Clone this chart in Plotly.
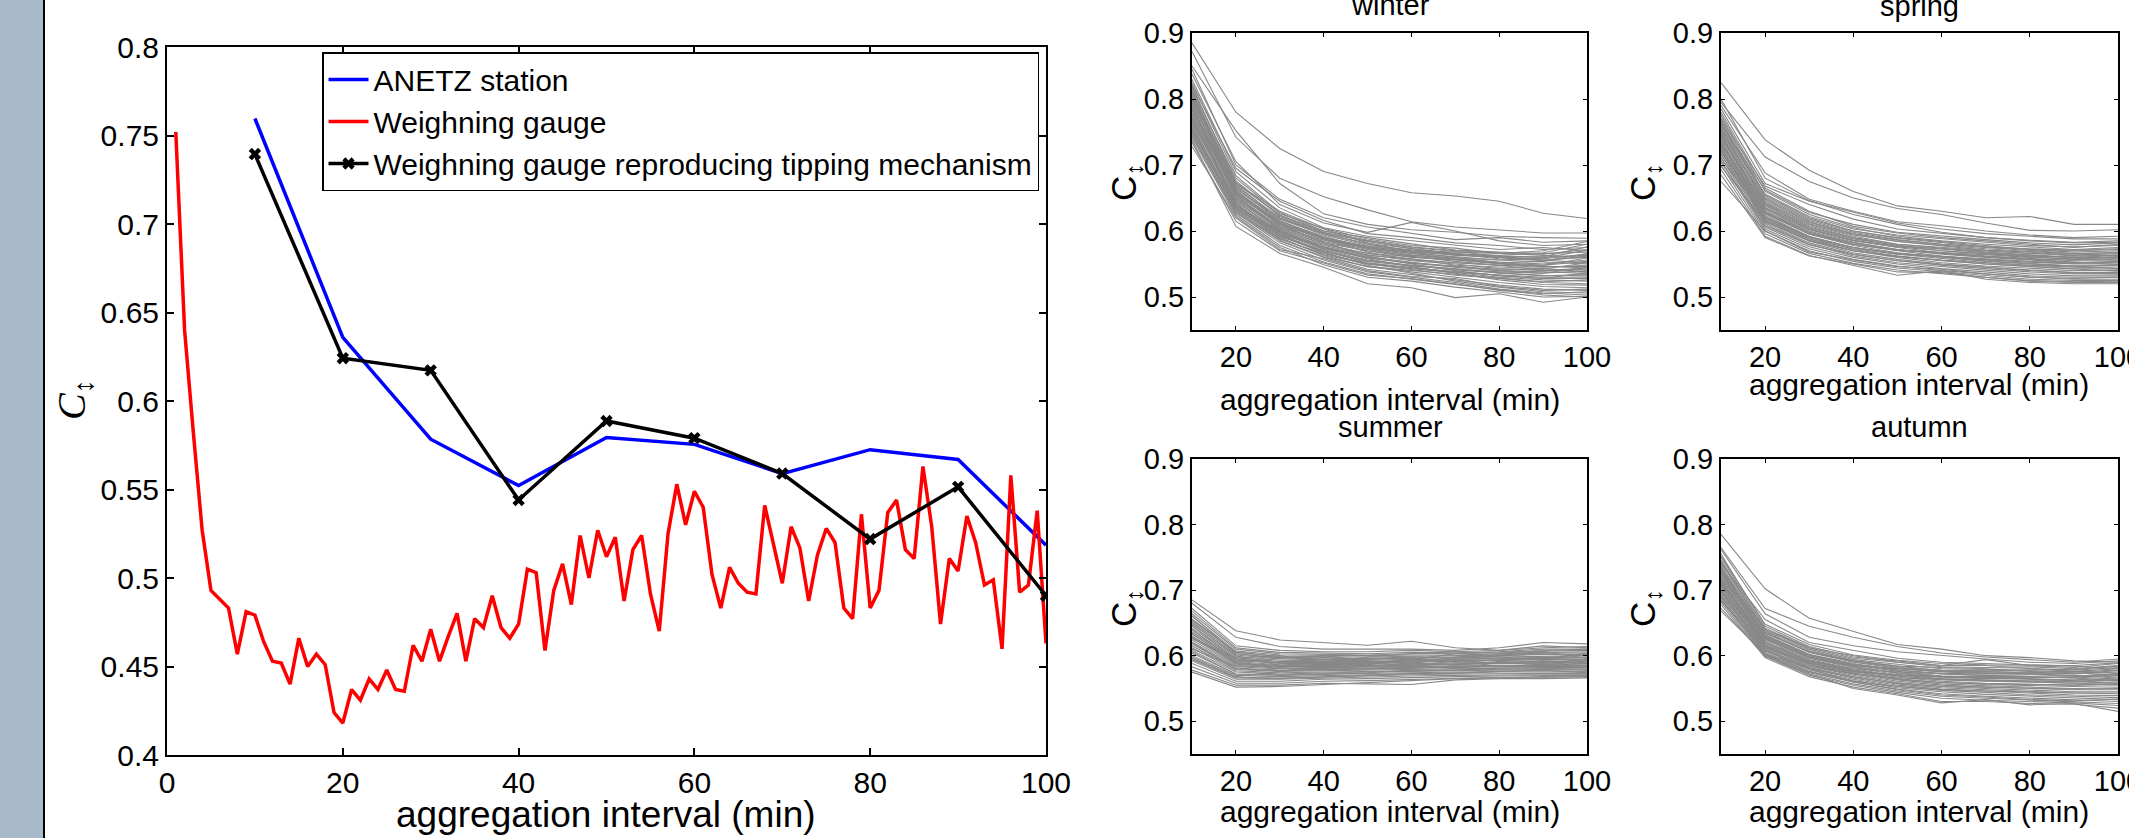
import plotly.graph_objects as go

W, H = 2129, 838
FONT = "Liberation Sans, Arial, sans-serif"

# ---------------- data: left panel ----------------
coarse_interval = [10, 20, 30, 40, 50, 60, 70, 80, 90, 100]
anetz_station = [0.7596, 0.636, 0.5784, 0.5522, 0.5794, 0.5755, 0.559, 0.5725, 0.567, 0.5185]
tipping_gauge = [0.7395, 0.6242, 0.6173, 0.5441, 0.5887, 0.579, 0.559, 0.522, 0.5515, 0.49]
weighing_gauge = [
    0.752, 0.640, 0.582, 0.527, 0.493, 0.488, 0.483, 0.457, 0.481, 0.479,
    0.464, 0.453, 0.452, 0.440, 0.466, 0.450, 0.457, 0.451, 0.424, 0.418,
    0.437, 0.431, 0.443, 0.437, 0.448, 0.437, 0.436, 0.462, 0.453, 0.471,
    0.453, 0.467, 0.480, 0.453, 0.477, 0.472, 0.490, 0.472, 0.466, 0.474,
    0.505, 0.503, 0.459, 0.493, 0.508, 0.485, 0.524, 0.500, 0.527, 0.512,
    0.523, 0.487, 0.516, 0.524, 0.491, 0.470, 0.525, 0.553, 0.530, 0.549,
    0.540, 0.502, 0.483, 0.506, 0.497, 0.492, 0.491, 0.541, 0.519, 0.497,
    0.529, 0.517, 0.487, 0.513, 0.528, 0.520, 0.483, 0.477, 0.536, 0.483,
    0.493, 0.537, 0.544, 0.516, 0.511, 0.563, 0.529, 0.474, 0.511, 0.504,
    0.535, 0.520, 0.496, 0.499, 0.460, 0.558, 0.492, 0.496, 0.538, 0.463,
]
fine_interval = list(range(1, len(weighing_gauge) + 1))

left_xticks = [0, 20, 40, 60, 80, 100]
left_yticks = [0.4, 0.45, 0.5, 0.55, 0.6, 0.65, 0.7, 0.75, 0.8]
left_yticktext = ["0.4", "0.45", "0.5", "0.55", "0.6", "0.65", "0.7", "0.75", "0.8"]

# ---------------- data: seasonal panels ----------------
season_interval = [10, 20, 30, 40, 50, 60, 70, 80, 90, 100]
season_xticks = [20, 40, 60, 80, 100]
season_yticks = [0.5, 0.6, 0.7, 0.8, 0.9]
season_yticktext = ["0.5", "0.6", "0.7", "0.8", "0.9"]

winter = [
    [0.885, 0.780, 0.725, 0.690, 0.672, 0.658, 0.653, 0.645, 0.627, 0.619],
    [0.872, 0.742, 0.680, 0.652, 0.632, 0.614, 0.606, 0.601, 0.597, 0.597],
    [0.850, 0.752, 0.672, 0.626, 0.610, 0.602, 0.598, 0.592, 0.590, 0.589],
    [0.845, 0.700, 0.648, 0.620, 0.606, 0.596, 0.587, 0.590, 0.583, 0.585],
    [0.838, 0.705, 0.640, 0.612, 0.598, 0.613, 0.600, 0.585, 0.578, 0.580],
    [0.830, 0.690, 0.635, 0.605, 0.592, 0.585, 0.578, 0.572, 0.575, 0.570],
    [0.825, 0.684, 0.628, 0.600, 0.590, 0.580, 0.571, 0.568, 0.566, 0.568],
    [0.818, 0.676, 0.622, 0.597, 0.585, 0.575, 0.569, 0.562, 0.560, 0.563],
    [0.812, 0.670, 0.618, 0.594, 0.578, 0.572, 0.565, 0.558, 0.556, 0.560],
    [0.808, 0.672, 0.630, 0.603, 0.582, 0.568, 0.560, 0.552, 0.548, 0.554],
    [0.802, 0.662, 0.612, 0.590, 0.575, 0.566, 0.561, 0.556, 0.553, 0.550],
    [0.798, 0.658, 0.608, 0.584, 0.570, 0.560, 0.556, 0.550, 0.546, 0.546],
    [0.793, 0.665, 0.615, 0.588, 0.568, 0.556, 0.552, 0.548, 0.540, 0.542],
    [0.789, 0.650, 0.604, 0.580, 0.566, 0.558, 0.548, 0.545, 0.543, 0.538],
    [0.785, 0.655, 0.600, 0.575, 0.561, 0.552, 0.547, 0.540, 0.538, 0.536],
    [0.780, 0.646, 0.598, 0.572, 0.556, 0.548, 0.543, 0.536, 0.533, 0.532],
    [0.776, 0.660, 0.610, 0.583, 0.562, 0.550, 0.540, 0.532, 0.528, 0.528],
    [0.772, 0.642, 0.594, 0.570, 0.552, 0.545, 0.538, 0.530, 0.526, 0.524],
    [0.768, 0.638, 0.596, 0.566, 0.550, 0.541, 0.533, 0.528, 0.522, 0.520],
    [0.764, 0.648, 0.602, 0.576, 0.558, 0.546, 0.536, 0.526, 0.519, 0.518],
    [0.760, 0.636, 0.590, 0.563, 0.546, 0.538, 0.530, 0.522, 0.516, 0.514],
    [0.756, 0.632, 0.585, 0.560, 0.542, 0.534, 0.526, 0.518, 0.512, 0.510],
    [0.752, 0.640, 0.592, 0.568, 0.548, 0.536, 0.524, 0.515, 0.508, 0.506],
    [0.748, 0.628, 0.582, 0.556, 0.538, 0.530, 0.522, 0.512, 0.506, 0.503],
    [0.745, 0.625, 0.578, 0.553, 0.535, 0.527, 0.518, 0.510, 0.503, 0.500],
    [0.741, 0.622, 0.575, 0.549, 0.530, 0.524, 0.515, 0.508, 0.500, 0.501],
    [0.738, 0.607, 0.566, 0.545, 0.520, 0.514, 0.499, 0.505, 0.492, 0.500],
    [0.734, 0.615, 0.570, 0.552, 0.533, 0.528, 0.520, 0.510, 0.505, 0.508],
    [0.728, 0.620, 0.572, 0.558, 0.540, 0.531, 0.528, 0.516, 0.510, 0.512],
    [0.822, 0.695, 0.645, 0.616, 0.596, 0.590, 0.582, 0.578, 0.572, 0.575],
    [0.815, 0.680, 0.626, 0.604, 0.588, 0.578, 0.574, 0.566, 0.565, 0.572],
    [0.805, 0.668, 0.620, 0.596, 0.580, 0.570, 0.563, 0.560, 0.558, 0.565],
    [0.795, 0.660, 0.614, 0.592, 0.574, 0.566, 0.558, 0.553, 0.550, 0.556],
    [0.786, 0.652, 0.606, 0.586, 0.572, 0.562, 0.554, 0.548, 0.545, 0.548],
    [0.778, 0.644, 0.600, 0.578, 0.564, 0.555, 0.550, 0.543, 0.540, 0.544],
    [0.770, 0.640, 0.598, 0.574, 0.560, 0.552, 0.545, 0.540, 0.536, 0.540],
    [0.762, 0.634, 0.593, 0.570, 0.555, 0.548, 0.541, 0.537, 0.532, 0.534],
    [0.754, 0.630, 0.588, 0.566, 0.551, 0.543, 0.537, 0.533, 0.530, 0.530],
    [0.800, 0.674, 0.624, 0.598, 0.584, 0.573, 0.566, 0.562, 0.561, 0.576],
    [0.790, 0.656, 0.610, 0.588, 0.576, 0.569, 0.565, 0.560, 0.555, 0.562],
    [0.812, 0.666, 0.616, 0.590, 0.577, 0.570, 0.568, 0.566, 0.570, 0.584],
    [0.806, 0.660, 0.612, 0.588, 0.574, 0.568, 0.564, 0.563, 0.567, 0.580],
    [0.797, 0.654, 0.606, 0.582, 0.570, 0.563, 0.559, 0.556, 0.559, 0.571],
    [0.783, 0.650, 0.603, 0.580, 0.566, 0.561, 0.557, 0.552, 0.554, 0.566],
    [0.774, 0.645, 0.598, 0.576, 0.563, 0.557, 0.552, 0.548, 0.548, 0.559],
    [0.766, 0.641, 0.596, 0.573, 0.559, 0.551, 0.546, 0.542, 0.542, 0.552],
    [0.758, 0.637, 0.592, 0.569, 0.554, 0.547, 0.542, 0.538, 0.536, 0.545],
    [0.750, 0.633, 0.589, 0.564, 0.550, 0.544, 0.539, 0.533, 0.528, 0.537],
    [0.744, 0.628, 0.586, 0.561, 0.546, 0.540, 0.534, 0.528, 0.523, 0.526],
    [0.820, 0.672, 0.624, 0.600, 0.586, 0.576, 0.570, 0.566, 0.563, 0.560],
    [0.809, 0.664, 0.619, 0.596, 0.581, 0.573, 0.566, 0.560, 0.556, 0.552],
    [0.787, 0.657, 0.611, 0.587, 0.573, 0.564, 0.557, 0.551, 0.547, 0.544],
]

spring = [
    [0.825, 0.738, 0.692, 0.660, 0.638, 0.630, 0.620, 0.622, 0.610, 0.610],
    [0.795, 0.712, 0.675, 0.650, 0.634, 0.625, 0.612, 0.601, 0.600, 0.602],
    [0.790, 0.688, 0.648, 0.630, 0.614, 0.608, 0.600, 0.594, 0.590, 0.592],
    [0.785, 0.672, 0.645, 0.628, 0.612, 0.603, 0.596, 0.592, 0.588, 0.588],
    [0.780, 0.665, 0.630, 0.607, 0.597, 0.590, 0.585, 0.580, 0.575, 0.580],
    [0.776, 0.660, 0.625, 0.605, 0.592, 0.585, 0.580, 0.576, 0.572, 0.575],
    [0.772, 0.654, 0.620, 0.600, 0.590, 0.584, 0.578, 0.572, 0.568, 0.570],
    [0.768, 0.650, 0.616, 0.598, 0.587, 0.580, 0.575, 0.570, 0.566, 0.567],
    [0.764, 0.646, 0.613, 0.595, 0.584, 0.577, 0.571, 0.568, 0.562, 0.564],
    [0.760, 0.642, 0.610, 0.592, 0.580, 0.574, 0.568, 0.564, 0.560, 0.560],
    [0.756, 0.640, 0.606, 0.589, 0.578, 0.570, 0.565, 0.561, 0.557, 0.558],
    [0.752, 0.636, 0.603, 0.586, 0.575, 0.567, 0.562, 0.558, 0.555, 0.555],
    [0.748, 0.632, 0.600, 0.583, 0.572, 0.565, 0.560, 0.556, 0.552, 0.552],
    [0.745, 0.630, 0.598, 0.580, 0.570, 0.562, 0.556, 0.553, 0.550, 0.550],
    [0.742, 0.627, 0.595, 0.578, 0.567, 0.560, 0.554, 0.550, 0.547, 0.547],
    [0.738, 0.624, 0.592, 0.575, 0.565, 0.558, 0.552, 0.548, 0.545, 0.544],
    [0.735, 0.621, 0.590, 0.572, 0.562, 0.555, 0.550, 0.546, 0.543, 0.542],
    [0.732, 0.618, 0.588, 0.570, 0.560, 0.552, 0.547, 0.543, 0.540, 0.540],
    [0.728, 0.615, 0.585, 0.567, 0.557, 0.550, 0.545, 0.540, 0.537, 0.537],
    [0.725, 0.612, 0.582, 0.565, 0.555, 0.548, 0.543, 0.538, 0.535, 0.535],
    [0.721, 0.610, 0.580, 0.562, 0.552, 0.546, 0.540, 0.535, 0.532, 0.532],
    [0.717, 0.606, 0.576, 0.560, 0.550, 0.543, 0.538, 0.532, 0.530, 0.530],
    [0.712, 0.603, 0.573, 0.557, 0.547, 0.540, 0.535, 0.530, 0.527, 0.527],
    [0.707, 0.600, 0.570, 0.554, 0.544, 0.538, 0.532, 0.527, 0.525, 0.525],
    [0.700, 0.596, 0.566, 0.551, 0.541, 0.535, 0.530, 0.524, 0.522, 0.522],
    [0.693, 0.592, 0.563, 0.548, 0.533, 0.540, 0.527, 0.522, 0.520, 0.520],
    [0.685, 0.590, 0.562, 0.550, 0.538, 0.537, 0.530, 0.525, 0.523, 0.524],
    [0.675, 0.600, 0.568, 0.556, 0.546, 0.542, 0.535, 0.530, 0.528, 0.530],
    [0.770, 0.668, 0.640, 0.618, 0.603, 0.596, 0.590, 0.586, 0.583, 0.585],
    [0.758, 0.656, 0.622, 0.603, 0.594, 0.588, 0.583, 0.578, 0.576, 0.578],
    [0.750, 0.648, 0.614, 0.596, 0.586, 0.580, 0.576, 0.572, 0.570, 0.572],
    [0.740, 0.640, 0.608, 0.590, 0.580, 0.575, 0.570, 0.566, 0.565, 0.568],
    [0.730, 0.634, 0.602, 0.585, 0.576, 0.570, 0.566, 0.562, 0.560, 0.563],
    [0.720, 0.628, 0.596, 0.580, 0.571, 0.566, 0.561, 0.557, 0.556, 0.558],
    [0.710, 0.620, 0.590, 0.575, 0.566, 0.561, 0.557, 0.553, 0.551, 0.553],
    [0.698, 0.614, 0.585, 0.570, 0.562, 0.556, 0.552, 0.548, 0.547, 0.548],
    [0.800, 0.680, 0.646, 0.625, 0.610, 0.598, 0.590, 0.585, 0.582, 0.583],
    [0.762, 0.662, 0.628, 0.610, 0.598, 0.592, 0.587, 0.582, 0.579, 0.582],
    [0.754, 0.644, 0.611, 0.594, 0.584, 0.578, 0.573, 0.569, 0.566, 0.562],
    [0.746, 0.638, 0.605, 0.588, 0.578, 0.572, 0.567, 0.563, 0.560, 0.556],
    [0.736, 0.629, 0.598, 0.582, 0.572, 0.566, 0.561, 0.557, 0.553, 0.549],
    [0.726, 0.622, 0.591, 0.575, 0.566, 0.560, 0.555, 0.551, 0.547, 0.543],
    [0.716, 0.616, 0.586, 0.570, 0.561, 0.555, 0.550, 0.546, 0.542, 0.539],
    [0.704, 0.608, 0.579, 0.564, 0.555, 0.549, 0.545, 0.541, 0.537, 0.535],
    [0.766, 0.652, 0.618, 0.600, 0.589, 0.582, 0.576, 0.573, 0.571, 0.573],
    [0.744, 0.634, 0.603, 0.586, 0.577, 0.573, 0.569, 0.566, 0.563, 0.566],
    [0.733, 0.626, 0.596, 0.580, 0.571, 0.568, 0.564, 0.560, 0.558, 0.561],
    [0.723, 0.618, 0.588, 0.573, 0.565, 0.562, 0.558, 0.554, 0.552, 0.554],
]

summer = [
    [0.685, 0.638, 0.624, 0.620, 0.616, 0.622, 0.612, 0.608, 0.615, 0.612],
    [0.680, 0.628, 0.614, 0.610, 0.610, 0.610, 0.608, 0.612, 0.620, 0.618],
    [0.672, 0.615, 0.608, 0.606, 0.606, 0.608, 0.606, 0.608, 0.612, 0.614],
    [0.668, 0.612, 0.605, 0.604, 0.603, 0.605, 0.604, 0.606, 0.610, 0.610],
    [0.664, 0.610, 0.603, 0.602, 0.601, 0.603, 0.603, 0.604, 0.607, 0.608],
    [0.660, 0.607, 0.601, 0.600, 0.600, 0.601, 0.601, 0.603, 0.605, 0.606],
    [0.656, 0.605, 0.599, 0.598, 0.598, 0.599, 0.600, 0.601, 0.604, 0.604],
    [0.652, 0.603, 0.597, 0.596, 0.596, 0.598, 0.598, 0.600, 0.602, 0.602],
    [0.648, 0.601, 0.595, 0.594, 0.595, 0.596, 0.597, 0.598, 0.600, 0.600],
    [0.645, 0.599, 0.593, 0.592, 0.593, 0.594, 0.595, 0.597, 0.598, 0.598],
    [0.642, 0.597, 0.591, 0.591, 0.591, 0.593, 0.594, 0.595, 0.597, 0.597],
    [0.639, 0.595, 0.590, 0.589, 0.590, 0.591, 0.592, 0.594, 0.595, 0.595],
    [0.636, 0.593, 0.588, 0.588, 0.588, 0.590, 0.591, 0.592, 0.594, 0.593],
    [0.633, 0.591, 0.586, 0.586, 0.587, 0.588, 0.589, 0.591, 0.592, 0.592],
    [0.630, 0.589, 0.585, 0.585, 0.585, 0.587, 0.588, 0.589, 0.590, 0.590],
    [0.627, 0.587, 0.583, 0.583, 0.584, 0.585, 0.586, 0.588, 0.589, 0.588],
    [0.624, 0.585, 0.581, 0.582, 0.582, 0.584, 0.585, 0.586, 0.587, 0.587],
    [0.621, 0.583, 0.580, 0.580, 0.581, 0.582, 0.583, 0.585, 0.585, 0.585],
    [0.618, 0.581, 0.578, 0.579, 0.579, 0.580, 0.582, 0.583, 0.584, 0.583],
    [0.615, 0.579, 0.576, 0.577, 0.578, 0.579, 0.580, 0.582, 0.582, 0.582],
    [0.612, 0.577, 0.574, 0.575, 0.576, 0.577, 0.579, 0.580, 0.580, 0.580],
    [0.608, 0.575, 0.572, 0.574, 0.575, 0.576, 0.577, 0.578, 0.579, 0.578],
    [0.604, 0.572, 0.570, 0.572, 0.573, 0.574, 0.575, 0.577, 0.577, 0.576],
    [0.600, 0.570, 0.568, 0.570, 0.571, 0.572, 0.574, 0.575, 0.575, 0.575],
    [0.596, 0.567, 0.566, 0.568, 0.569, 0.571, 0.572, 0.573, 0.573, 0.573],
    [0.592, 0.564, 0.564, 0.566, 0.567, 0.569, 0.570, 0.571, 0.571, 0.571],
    [0.588, 0.561, 0.561, 0.564, 0.565, 0.567, 0.568, 0.569, 0.569, 0.570],
    [0.583, 0.558, 0.558, 0.561, 0.562, 0.564, 0.566, 0.567, 0.567, 0.568],
    [0.578, 0.555, 0.555, 0.558, 0.557, 0.556, 0.563, 0.565, 0.565, 0.566],
    [0.575, 0.552, 0.553, 0.556, 0.560, 0.562, 0.565, 0.566, 0.568, 0.567],
    [0.650, 0.600, 0.585, 0.590, 0.598, 0.603, 0.606, 0.598, 0.594, 0.604],
    [0.640, 0.590, 0.596, 0.600, 0.592, 0.588, 0.598, 0.602, 0.606, 0.596],
    [0.626, 0.596, 0.600, 0.590, 0.586, 0.596, 0.590, 0.594, 0.598, 0.601],
    [0.610, 0.584, 0.584, 0.582, 0.590, 0.584, 0.592, 0.588, 0.592, 0.589],
    [0.598, 0.568, 0.576, 0.584, 0.580, 0.586, 0.580, 0.590, 0.586, 0.592],
    [0.661, 0.603, 0.596, 0.597, 0.594, 0.598, 0.596, 0.599, 0.603, 0.600],
    [0.646, 0.594, 0.589, 0.590, 0.589, 0.592, 0.593, 0.593, 0.596, 0.594],
    [0.634, 0.588, 0.583, 0.584, 0.585, 0.586, 0.587, 0.590, 0.591, 0.588],
    [0.620, 0.580, 0.577, 0.578, 0.580, 0.581, 0.584, 0.584, 0.586, 0.584],
    [0.606, 0.572, 0.571, 0.573, 0.574, 0.578, 0.578, 0.581, 0.581, 0.579],
    [0.594, 0.566, 0.565, 0.567, 0.570, 0.573, 0.573, 0.576, 0.578, 0.574],
    [0.654, 0.606, 0.598, 0.594, 0.596, 0.594, 0.603, 0.605, 0.608, 0.610],
    [0.628, 0.590, 0.582, 0.587, 0.583, 0.589, 0.586, 0.591, 0.588, 0.595],
]

autumn = [
    [0.785, 0.702, 0.657, 0.637, 0.617, 0.610, 0.600, 0.597, 0.592, 0.590],
    [0.765, 0.672, 0.645, 0.628, 0.614, 0.604, 0.598, 0.594, 0.590, 0.595],
    [0.762, 0.664, 0.628, 0.615, 0.606, 0.600, 0.595, 0.590, 0.588, 0.592],
    [0.755, 0.645, 0.614, 0.598, 0.592, 0.585, 0.594, 0.585, 0.582, 0.588],
    [0.750, 0.642, 0.612, 0.596, 0.590, 0.583, 0.582, 0.583, 0.580, 0.585],
    [0.746, 0.640, 0.610, 0.594, 0.587, 0.580, 0.579, 0.580, 0.578, 0.582],
    [0.742, 0.638, 0.608, 0.592, 0.584, 0.577, 0.576, 0.577, 0.575, 0.578],
    [0.738, 0.635, 0.605, 0.590, 0.581, 0.575, 0.573, 0.574, 0.572, 0.575],
    [0.734, 0.632, 0.602, 0.588, 0.578, 0.572, 0.570, 0.571, 0.569, 0.572],
    [0.730, 0.630, 0.600, 0.586, 0.576, 0.569, 0.568, 0.568, 0.566, 0.569],
    [0.727, 0.628, 0.598, 0.584, 0.573, 0.567, 0.565, 0.565, 0.563, 0.566],
    [0.724, 0.625, 0.596, 0.582, 0.571, 0.565, 0.563, 0.562, 0.560, 0.563],
    [0.721, 0.623, 0.594, 0.580, 0.569, 0.563, 0.561, 0.560, 0.558, 0.560],
    [0.718, 0.621, 0.592, 0.578, 0.567, 0.561, 0.558, 0.557, 0.555, 0.557],
    [0.715, 0.619, 0.590, 0.576, 0.565, 0.559, 0.556, 0.555, 0.553, 0.554],
    [0.712, 0.617, 0.588, 0.574, 0.563, 0.557, 0.554, 0.552, 0.550, 0.551],
    [0.709, 0.615, 0.586, 0.572, 0.561, 0.555, 0.552, 0.550, 0.548, 0.548],
    [0.706, 0.613, 0.584, 0.570, 0.559, 0.553, 0.550, 0.548, 0.545, 0.545],
    [0.703, 0.611, 0.582, 0.568, 0.557, 0.551, 0.548, 0.545, 0.543, 0.542],
    [0.700, 0.609, 0.580, 0.566, 0.555, 0.549, 0.546, 0.543, 0.540, 0.539],
    [0.697, 0.607, 0.578, 0.564, 0.553, 0.547, 0.544, 0.540, 0.538, 0.536],
    [0.694, 0.605, 0.576, 0.562, 0.551, 0.545, 0.541, 0.538, 0.535, 0.533],
    [0.690, 0.603, 0.574, 0.560, 0.549, 0.542, 0.538, 0.535, 0.533, 0.530],
    [0.686, 0.601, 0.572, 0.557, 0.546, 0.538, 0.535, 0.532, 0.530, 0.527],
    [0.682, 0.599, 0.570, 0.555, 0.544, 0.535, 0.532, 0.530, 0.528, 0.524],
    [0.678, 0.597, 0.568, 0.552, 0.542, 0.530, 0.530, 0.527, 0.526, 0.520],
    [0.672, 0.600, 0.572, 0.550, 0.540, 0.528, 0.533, 0.525, 0.527, 0.515],
    [0.668, 0.603, 0.580, 0.560, 0.548, 0.540, 0.537, 0.533, 0.531, 0.534],
    [0.740, 0.655, 0.620, 0.608, 0.596, 0.590, 0.588, 0.586, 0.584, 0.580],
    [0.728, 0.640, 0.612, 0.600, 0.590, 0.585, 0.585, 0.580, 0.576, 0.573],
    [0.720, 0.634, 0.606, 0.592, 0.584, 0.582, 0.580, 0.576, 0.574, 0.570],
    [0.710, 0.627, 0.598, 0.585, 0.580, 0.576, 0.574, 0.572, 0.570, 0.566],
    [0.700, 0.620, 0.592, 0.580, 0.575, 0.572, 0.570, 0.568, 0.566, 0.562],
    [0.692, 0.612, 0.588, 0.576, 0.570, 0.568, 0.566, 0.564, 0.562, 0.558],
    [0.684, 0.608, 0.584, 0.572, 0.566, 0.564, 0.562, 0.560, 0.559, 0.556],
    [0.744, 0.636, 0.606, 0.591, 0.582, 0.578, 0.577, 0.578, 0.579, 0.584],
    [0.736, 0.631, 0.601, 0.587, 0.578, 0.573, 0.572, 0.573, 0.573, 0.577],
    [0.726, 0.626, 0.597, 0.583, 0.574, 0.569, 0.567, 0.567, 0.567, 0.571],
    [0.716, 0.620, 0.591, 0.578, 0.569, 0.564, 0.562, 0.562, 0.561, 0.564],
    [0.707, 0.614, 0.586, 0.573, 0.564, 0.559, 0.557, 0.556, 0.555, 0.557],
    [0.698, 0.608, 0.581, 0.567, 0.558, 0.553, 0.552, 0.550, 0.549, 0.550],
    [0.688, 0.602, 0.575, 0.561, 0.553, 0.548, 0.546, 0.544, 0.543, 0.543],
    [0.752, 0.648, 0.617, 0.601, 0.593, 0.588, 0.586, 0.585, 0.585, 0.589],
    [0.732, 0.629, 0.600, 0.586, 0.580, 0.576, 0.575, 0.574, 0.576, 0.580],
    [0.714, 0.616, 0.589, 0.575, 0.571, 0.568, 0.567, 0.566, 0.568, 0.572],
]

seasons = [("winter", winter), ("spring", spring), ("summer", summer), ("autumn", autumn)]

# ---------------- layout geometry (pixels) ----------------
def fx(px):
    return px / W


def fy(py):
    return 1 - py / H


left_box = (167, 1046, 47, 755)  # x0, x1, ytop, ybottom
season_boxes = {
    "winter": (1192, 1587, 33, 330),
    "spring": (1721, 2118, 33, 330),
    "summer": (1192, 1587, 459, 754),
    "autumn": (1721, 2118, 459, 754),
}

fig = go.Figure()

# left panel traces
fig.add_trace(go.Scatter(x=coarse_interval, y=anetz_station, mode="lines", name="ANETZ station",
                         line=dict(color="#0000ff", width=3.5), xaxis="x", yaxis="y"))
fig.add_trace(go.Scatter(x=fine_interval, y=weighing_gauge, mode="lines", name="Weighning gauge",
                         line=dict(color="#ff0000", width=3.5), xaxis="x", yaxis="y"))
fig.add_trace(go.Scatter(x=coarse_interval, y=tipping_gauge, mode="lines+markers",
                         name="Weighning gauge reproducing tipping mechanism",
                         line=dict(color="#000000", width=3.5),
                         marker=dict(symbol="x", size=11, color="#000000"),
                         xaxis="x", yaxis="y"))

# seasonal traces
for i, (name, curves) in enumerate(seasons):
    ax = i + 2
    for c in curves:
        fig.add_trace(go.Scatter(x=season_interval, y=c, mode="lines", showlegend=False,
                                 line=dict(color="rgb(136,136,136)", width=1.1),
                                 xaxis=f"x{ax}", yaxis=f"y{ax}", hoverinfo="skip"))

axis_common = dict(showline=True, linecolor="black", mirror="ticks", ticks="inside",
                   tickcolor="black", showgrid=False, zeroline=False, automargin=False,
                   ticklabeloverflow="allow")

layout = dict(
    width=W, height=H, margin=dict(l=0, r=0, t=0, b=0, pad=0, autoexpand=False),
    paper_bgcolor="white", plot_bgcolor="white",
    font=dict(family=FONT, color="black"),
    xaxis=dict(domain=[fx(left_box[0]), fx(left_box[1])], range=[0, 100], anchor="y",
               tickvals=left_xticks, linewidth=2, ticklen=7, tickwidth=1.5,
               tickfont=dict(size=30, family=FONT, color="black"), **axis_common),
    yaxis=dict(domain=[fy(left_box[3]), fy(left_box[2])], range=[0.4, 0.8], anchor="x",
               tickvals=left_yticks, ticktext=left_yticktext, linewidth=2, ticklen=7, tickwidth=1.5,
               tickfont=dict(size=30, family=FONT, color="black"), **axis_common),
    showlegend=True,
    legend=dict(x=fx(1039), y=fy(52), xanchor="right", yanchor="top",
                bgcolor="white", bordercolor="black", borderwidth=1.5,
                font=dict(size=30, family=FONT, color="black"), itemwidth=40),
)

annotations = []
for i, (name, curves) in enumerate(seasons):
    ax = i + 2
    x0, x1, yt, yb = season_boxes[name]
    layout[f"xaxis{ax}"] = dict(domain=[fx(x0), fx(x1)], range=[10, 100], anchor=f"y{ax}",
                                tickvals=season_xticks, linewidth=2, ticklen=4, tickwidth=1,
                                tickfont=dict(size=29, family=FONT, color="black"), **axis_common)
    layout[f"yaxis{ax}"] = dict(domain=[fy(yb), fy(yt)], range=[0.45, 0.9], anchor=f"x{ax}",
                                tickvals=season_yticks, ticktext=season_yticktext,
                                linewidth=2, ticklen=4, tickwidth=1,
                                tickfont=dict(size=29, family=FONT, color="black"), **axis_common)


def ann(text, px, py, size, family=FONT, angle=0, xanchor="center", yanchor="middle"):
    annotations.append(dict(text=text, x=fx(px), y=fy(py), xref="paper", yref="paper",
                            showarrow=False, textangle=angle, xanchor=xanchor, yanchor=yanchor,
                            font=dict(size=size, family=family, color="black")))


ann("aggregation interval (min)", 606, 814, 37)
ann("<i>C</i><sub>↕</sub>", 74, 400, 40, family="Liberation Serif, Times New Roman, serif", angle=-90)

ann("winter", 1390, 5, 29)
ann("spring", 1919, 6, 29)
ann("summer", 1390, 427, 29)
ann("autumn", 1919, 427, 29)

ann("aggregation interval (min)", 1390, 400, 30)
ann("aggregation interval (min)", 1919, 385, 30)
ann("aggregation interval (min)", 1390, 811, 30)
ann("aggregation interval (min)", 1919, 811, 30)

ann("C<sub>↕</sub>", 1126, 182, 35, angle=-90)
ann("C<sub>↕</sub>", 1645, 182, 35, angle=-90)
ann("C<sub>↕</sub>", 1126, 608, 35, angle=-90)
ann("C<sub>↕</sub>", 1645, 608, 35, angle=-90)

layout["annotations"] = annotations
layout["shapes"] = [
    dict(type="rect", xref="paper", yref="paper", x0=0, x1=fx(43), y0=0, y1=1,
         fillcolor="#a8b9ca", line=dict(width=0), layer="below"),
    dict(type="line", xref="paper", yref="paper", x0=fx(44), x1=fx(44), y0=0, y1=1,
         line=dict(color="black", width=2)),
]

fig.update_layout(**layout)
fig.write_html(
    "out.html",
    config={"responsive": False, "displayModeBar": False},
    post_script="document.body.style.margin='0px';document.body.style.overflow='hidden';",
)
